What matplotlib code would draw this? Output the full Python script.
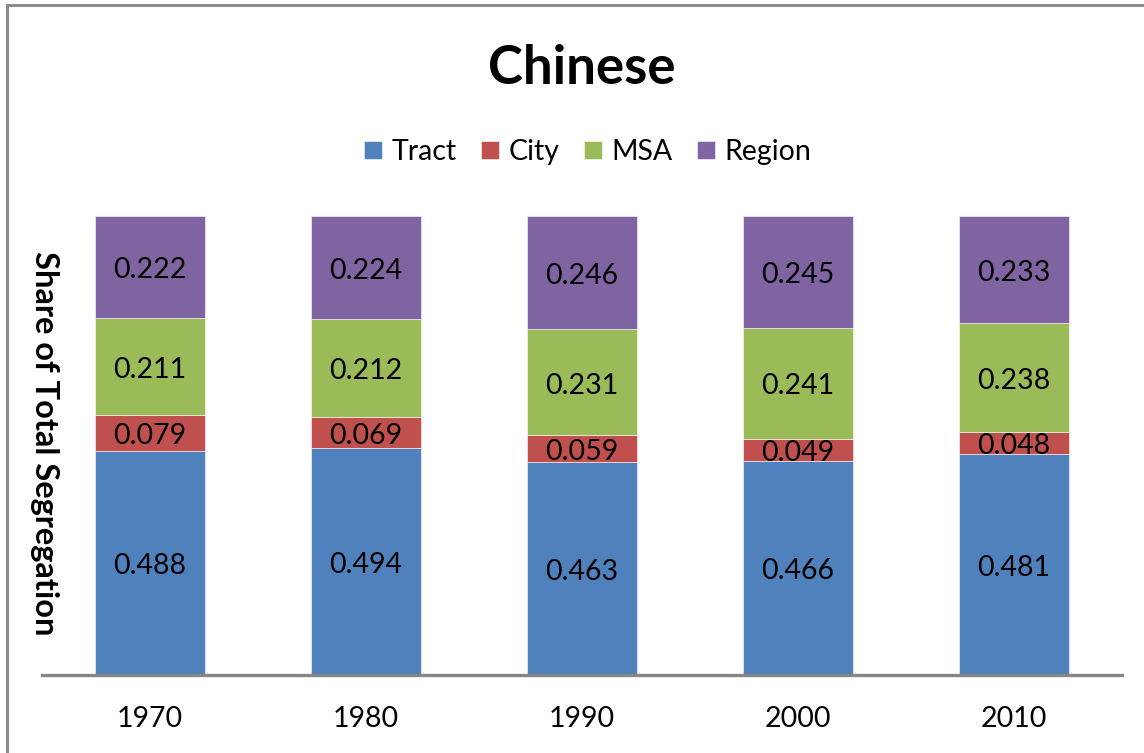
import numpy as np
import matplotlib
matplotlib.use("Agg")
import matplotlib.pyplot as plt
from matplotlib.patches import Rectangle

years = ["1970", "1980", "1990", "2000", "2010"]
tract = [0.488, 0.494, 0.463, 0.466, 0.481]
city = [0.079, 0.069, 0.059, 0.049, 0.048]
msa = [0.211, 0.212, 0.231, 0.241, 0.238]
region = [0.222, 0.224, 0.246, 0.245, 0.233]

series = [("Tract", tract, "#4F81BD"),
          ("City", city, "#C0504D"),
          ("MSA", msa, "#9BBB59"),
          ("Region", region, "#8064A2")]

plt.rcParams['font.family'] = ['Lato', 'DejaVu Sans']

W, H = 1144, 753
fig = plt.figure(figsize=(W / 100, H / 100), dpi=100)
fig.patches.append(Rectangle((7 / W, -0.1), 1.2, 1 - 5 / H + 0.1, transform=fig.transFigure,
                             fill=False, edgecolor="#8c8c8c", linewidth=2.2))

ax = fig.add_axes([42 / W, (H - 675) / H, (1122 - 42) / W, (675 - 216) / H])
x = np.arange(len(years))
bottom = np.zeros(len(years))
handles = []
for name, vals, col in series:
    bars = ax.bar(x, vals, 0.51, bottom=bottom, color=col, label=name,
                  edgecolor="white", linewidth=0.4)
    texts = ax.bar_label(bars, labels=[f"{v:.3f}" for v in vals], label_type="center", fontsize=20.5)
    for t in texts:
        t.xyann = (0, -2.3)
    bottom += np.array(vals)
    handles.append(bars)

ax.set_xlim(-0.5, len(years) - 0.5)
ax.set_ylim(0, 1)
ax.set_xticks(x)
ax.set_xticklabels(years, fontsize=20.5)
ax.tick_params(axis="x", length=0, pad=22)
ax.set_yticks([])
for s in ["top", "left", "right"]:
    ax.spines[s].set_visible(False)
ax.spines["bottom"].set_color("#868686")
ax.spines["bottom"].set_linewidth(2.4)

fig.text(582 / W, 1 - 68 / H, "Chinese", fontsize=38, fontweight="bold", ha="center", va="center")
fig.text(44 / W, 1 - 443 / H, "Share of Total Segregation", fontsize=23.5, fontweight="bold",
         rotation=270, ha="center", va="center")
fig.legend(handles=handles, loc="center", bbox_to_anchor=(588 / W, 1 - 152 / H), ncol=4,
           frameon=False, fontsize=20.5, handlelength=0.62, handleheight=0.62,
           handletextpad=0.35, columnspacing=0.85)

plt.savefig("out.png", dpi=100)
